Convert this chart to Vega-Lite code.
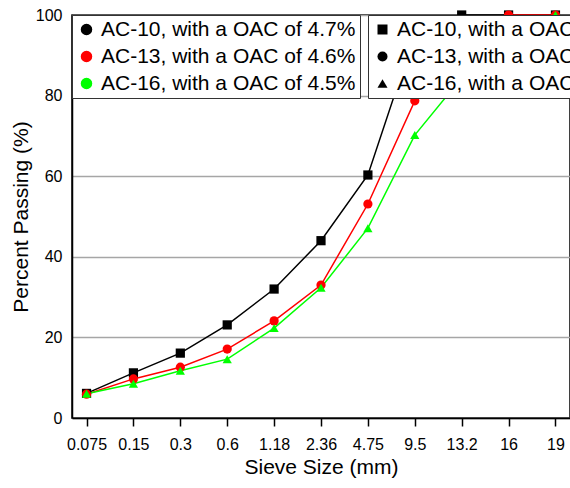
{
  "$schema": "https://vega.github.io/schema/vega-lite/v6.json",
  "width": 498,
  "height": 403,
  "autosize": {"type": "none"},
  "padding": {"left": 72, "top": 15, "right": 0, "bottom": 70},
  "config": {
    "font": "Liberation Sans",
    "view": {"stroke": "black", "strokeWidth": 1.5}
  },
  "data": {
    "values": [
      {"sieve": "0.075", "series": "AC-10, with a OAC of 4.7%", "value": 6.1},
      {"sieve": "0.15", "series": "AC-10, with a OAC of 4.7%", "value": 11.2},
      {"sieve": "0.3", "series": "AC-10, with a OAC of 4.7%", "value": 16.1},
      {"sieve": "0.6", "series": "AC-10, with a OAC of 4.7%", "value": 23.1},
      {"sieve": "1.18", "series": "AC-10, with a OAC of 4.7%", "value": 32},
      {"sieve": "2.36", "series": "AC-10, with a OAC of 4.7%", "value": 44},
      {"sieve": "4.75", "series": "AC-10, with a OAC of 4.7%", "value": 60.3},
      {"sieve": "9.5", "series": "AC-10, with a OAC of 4.7%", "value": 95.3},
      {"sieve": "13.2", "series": "AC-10, with a OAC of 4.7%", "value": 100},
      {"sieve": "16", "series": "AC-10, with a OAC of 4.7%", "value": 100},
      {"sieve": "19", "series": "AC-10, with a OAC of 4.7%", "value": 100},
      {"sieve": "0.075", "series": "AC-13, with a OAC of 4.6%", "value": 5.9},
      {"sieve": "0.15", "series": "AC-13, with a OAC of 4.6%", "value": 9.7},
      {"sieve": "0.3", "series": "AC-13, with a OAC of 4.6%", "value": 12.6},
      {"sieve": "0.6", "series": "AC-13, with a OAC of 4.6%", "value": 17.1},
      {"sieve": "1.18", "series": "AC-13, with a OAC of 4.6%", "value": 24.1},
      {"sieve": "2.36", "series": "AC-13, with a OAC of 4.6%", "value": 33},
      {"sieve": "4.75", "series": "AC-13, with a OAC of 4.6%", "value": 53.1},
      {"sieve": "9.5", "series": "AC-13, with a OAC of 4.6%", "value": 78.7},
      {"sieve": "13.2", "series": "AC-13, with a OAC of 4.6%", "value": 95},
      {"sieve": "16", "series": "AC-13, with a OAC of 4.6%", "value": 100},
      {"sieve": "19", "series": "AC-13, with a OAC of 4.6%", "value": 100},
      {"sieve": "0.075", "series": "AC-16, with a OAC of 4.5%", "value": 6},
      {"sieve": "0.15", "series": "AC-16, with a OAC of 4.5%", "value": 8.5},
      {"sieve": "0.3", "series": "AC-16, with a OAC of 4.5%", "value": 11.7},
      {"sieve": "0.6", "series": "AC-16, with a OAC of 4.5%", "value": 14.6},
      {"sieve": "1.18", "series": "AC-16, with a OAC of 4.5%", "value": 22.3},
      {"sieve": "2.36", "series": "AC-16, with a OAC of 4.5%", "value": 32.3},
      {"sieve": "4.75", "series": "AC-16, with a OAC of 4.5%", "value": 47.1},
      {"sieve": "9.5", "series": "AC-16, with a OAC of 4.5%", "value": 70.2},
      {"sieve": "13.2", "series": "AC-16, with a OAC of 4.5%", "value": 84.4},
      {"sieve": "16", "series": "AC-16, with a OAC of 4.5%", "value": 95.5},
      {"sieve": "19", "series": "AC-16, with a OAC of 4.5%", "value": 100}
    ]
  },
  "encoding": {
    "x": {
      "field": "sieve", "type": "ordinal", "sort": null,
      "scale": {"type": "point", "padding": 0.31},
      "axis": {
        "title": "Sieve Size (mm)", "titleFontSize": 21, "titleFontWeight": "normal", "titleColor": "black",
        "labelAngle": 0, "labelFontSize": 16, "labelPadding": 10, "labelColor": "black",
        "tickSize": 8, "tickColor": "black", "tickWidth": 1.5,
        "domainColor": "black", "domainWidth": 1.5
      }
    },
    "y": {
      "field": "value", "type": "quantitative",
      "scale": {"domain": [0, 100], "nice": false},
      "axis": {
        "values": [0, 20, 40, 60, 80, 100],
        "title": "Percent Passing (%)", "titleFontSize": 21, "titleFontWeight": "normal", "titleColor": "black",
        "labelFontSize": 16, "labelPadding": 10, "labelColor": "black", "tickSize": 0,
        "domainColor": "black", "domainWidth": 1.5,
        "gridColor": "#a6a6a6", "gridWidth": 1.5
      }
    },
    "color": {
      "field": "series", "type": "nominal",
      "scale": {"range": ["#000000", "#ff0000", "#00ff00"]},
      "legend": {
        "title": null, "orient": "top-left", "offset": 0, "padding": 4,
        "strokeColor": "#333333", "fillColor": "white",
        "labelFontSize": 21, "labelColor": "black", "labelLimit": 400, "rowPadding": 5
      }
    }
  },
  "layer": [
    {
      "mark": {"type": "line", "strokeWidth": 1.5}
    },
    {
      "mark": {"type": "point", "filled": true, "size": 85, "opacity": 1},
      "encoding": {
        "shape": {
          "field": "series", "type": "nominal",
          "scale": {"range": ["square", "circle", "triangle-up"]},
          "legend": {
            "title": null, "orient": "top-left", "offset": 0, "padding": 4,
            "strokeColor": "#333333", "fillColor": "white",
            "labelFontSize": 21, "labelColor": "black", "labelLimit": 400, "rowPadding": 5
          }
        }
      }
    }
  ]
}
